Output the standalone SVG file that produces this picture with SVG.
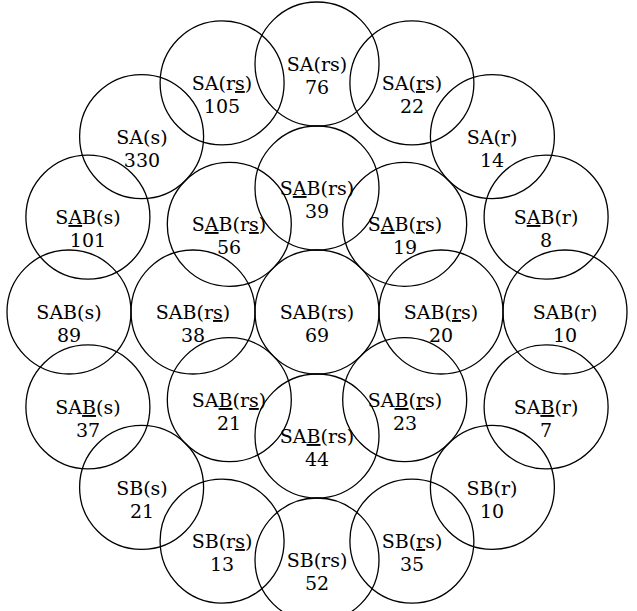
<svg xmlns="http://www.w3.org/2000/svg" width="637" height="611" viewBox="0 0 637 611">
<style>
circle{fill:none;stroke:#000;stroke-width:1.3}
text{font-family:"DejaVu Serif","Liberation Serif",serif;font-size:19px;text-anchor:middle;fill:#000}
.u{text-decoration:underline}
</style>
<rect width="637" height="611" fill="#fff"/>
<g id="n-SA-rs"><circle cx="317" cy="64" r="62"/><text x="317" y="71">SA(rs)</text><text x="317" y="94">76</text></g>
<g id="n-SA-rsu"><circle cx="222.1" cy="82.9" r="62"/><text x="222" y="90">SA(r<tspan class="u">s</tspan>)</text><text x="222" y="113">105</text></g>
<g id="n-SA-rus"><circle cx="411.9" cy="82.9" r="62"/><text x="412" y="90">SA(<tspan class="u">r</tspan>s)</text><text x="412" y="113">22</text></g>
<g id="n-SA-s"><circle cx="141.6" cy="136.6" r="62"/><text x="142" y="144">SA(s)</text><text x="142" y="167">330</text></g>
<g id="n-SA-r"><circle cx="492.4" cy="136.6" r="62"/><text x="492" y="144">SA(r)</text><text x="492" y="167">14</text></g>
<g id="n-SAuB-s"><circle cx="87.9" cy="217.1" r="62"/><text x="88" y="224">S<tspan class="u">A</tspan>B(s)</text><text x="88" y="247">101</text></g>
<g id="n-SAuB-r"><circle cx="546.1" cy="217.1" r="62"/><text x="546" y="224">S<tspan class="u">A</tspan>B(r)</text><text x="546" y="247">8</text></g>
<g id="n-SAuB-rs"><circle cx="317" cy="188" r="62"/><text x="317" y="195">S<tspan class="u">A</tspan>B(rs)</text><text x="317" y="218">39</text></g>
<g id="n-SAuB-rsu"><circle cx="229.3" cy="224.3" r="62"/><text x="229" y="231">S<tspan class="u">A</tspan>B(r<tspan class="u">s</tspan>)</text><text x="229" y="254">56</text></g>
<g id="n-SAuB-rus"><circle cx="404.7" cy="224.3" r="62"/><text x="405" y="231">S<tspan class="u">A</tspan>B(<tspan class="u">r</tspan>s)</text><text x="405" y="254">19</text></g>
<g id="n-SAB-s"><circle cx="69" cy="312" r="62"/><text x="69" y="319">SAB(s)</text><text x="69" y="342">89</text></g>
<g id="n-SAB-rsu"><circle cx="193" cy="312" r="62"/><text x="193" y="319">SAB(r<tspan class="u">s</tspan>)</text><text x="193" y="342">38</text></g>
<g id="n-SAB-rs"><circle cx="317" cy="312" r="62"/><text x="317" y="319">SAB(rs)</text><text x="317" y="342">69</text></g>
<g id="n-SAB-rus"><circle cx="441" cy="312" r="62"/><text x="441" y="319">SAB(<tspan class="u">r</tspan>s)</text><text x="441" y="342">20</text></g>
<g id="n-SAB-r"><circle cx="565" cy="312" r="62"/><text x="565" y="319">SAB(r)</text><text x="565" y="342">10</text></g>
<g id="n-SABu-s"><circle cx="87.9" cy="406.9" r="62"/><text x="88" y="414">SA<tspan class="u">B</tspan>(s)</text><text x="88" y="437">37</text></g>
<g id="n-SABu-rsu"><circle cx="229.3" cy="399.7" r="62"/><text x="229" y="407">SA<tspan class="u">B</tspan>(r<tspan class="u">s</tspan>)</text><text x="229" y="430">21</text></g>
<g id="n-SABu-rs"><circle cx="317" cy="436" r="62"/><text x="317" y="443">SA<tspan class="u">B</tspan>(rs)</text><text x="317" y="466">44</text></g>
<g id="n-SABu-rus"><circle cx="404.7" cy="399.7" r="62"/><text x="405" y="407">SA<tspan class="u">B</tspan>(<tspan class="u">r</tspan>s)</text><text x="405" y="430">23</text></g>
<g id="n-SABu-r"><circle cx="546.1" cy="406.9" r="62"/><text x="546" y="414">SA<tspan class="u">B</tspan>(r)</text><text x="546" y="437">7</text></g>
<g id="n-SB-s"><circle cx="141.6" cy="487.4" r="62"/><text x="142" y="495">SB(s)</text><text x="142" y="518">21</text></g>
<g id="n-SB-r"><circle cx="492.4" cy="487.4" r="62"/><text x="492" y="495">SB(r)</text><text x="492" y="518">10</text></g>
<g id="n-SB-rsu"><circle cx="222.1" cy="541.1" r="62"/><text x="222" y="548">SB(r<tspan class="u">s</tspan>)</text><text x="222" y="571">13</text></g>
<g id="n-SB-rus"><circle cx="411.9" cy="541.1" r="62"/><text x="412" y="548">SB(<tspan class="u">r</tspan>s)</text><text x="412" y="571">35</text></g>
<g id="n-SB-rs"><circle cx="317" cy="560" r="62"/><text x="317" y="567">SB(rs)</text><text x="317" y="590">52</text></g>
</svg>
